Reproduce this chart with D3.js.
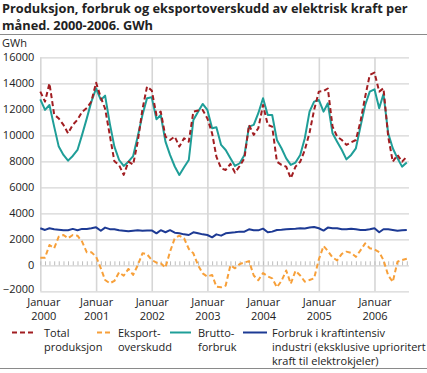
<!DOCTYPE html>
<html>
<head>
<meta charset="utf-8">
<script src="https://cdn.jsdelivr.net/npm/d3@7"></script>
<style>
    body { margin: 0; background: #fff; }
    text { font-family: "Open Sans", sans-serif; fill: #222; }
</style>
</head>
<body>
<div id="my_chart"></div>
<script>
// monthly values Jan 2000 - Aug 2006, GWh
var totalProduksjon = [
    13360, 12590, 14000, 11600, 11300, 10800, 10150, 10800, 11200, 11800, 12100, 12600,
    14050, 12900, 12050, 10000, 8000, 7700, 6950, 7970, 7750, 9500, 12000, 13750,
    13450, 11560, 11820, 9900, 9640, 9900, 9130, 9770, 9510, 11820, 11900, 11950,
    11300, 10150, 8360, 7460, 7330, 7800, 7130, 7640, 8230, 10800, 10030, 10540,
    12330, 10800, 10670, 7970, 7720, 7590, 6690, 7590, 7970, 8870, 10200, 11950,
    13360, 13400, 13600, 10670, 9900, 9640, 9260, 9460, 9640, 11050, 12970, 14640,
    14820, 13360, 13620, 9900, 7970, 8490, 7970, 8360];

var eksportOverskudd = [
    590, 590, 1560, 1310, 2200, 2330, 2080, 2330, 2280, 1820, 1000, 1000,
    670, -230, -1130, -1380, -1200, -540, -800, -280, -740, 0, 920, 850,
    410, 200, 150, -180, 1050, 2080, 2280, 2080, 1260, 920, 0, -620,
    -870, -740, -1640, -1690, -1560, 0, -230, 100, 220, 320, -780, -1150,
    -600, -850, -1000, -1690, -1200, -400, -1420, -420, -780, -1260, -1130, -1000,
    450, 1480, 1100, 600, 380, 880, 1050, 950, 650, 1150, 1690, 1310,
    1220, 1020, 400, -780, -1280, 280, 410, 500];

var bruttoForbruk = [
    12770, 11950, 12330, 10670, 9130, 8490, 8050, 8410, 8870, 10030, 11300, 12590,
    13600, 12720, 13050, 10900, 9130, 8100, 7640, 7970, 8400, 9900, 11560, 12850,
    12920, 11230, 11560, 9510, 8490, 7600, 6950, 7540, 8100, 11180, 11820, 12410,
    11950, 10540, 10620, 9260, 8870, 8230, 7640, 7850, 8490, 10670, 10800, 11700,
    12850, 11560, 11560, 9640, 9000, 8230, 7720, 7900, 8490, 9770, 11820, 12590,
    12720, 11820, 12460, 10150, 9510, 8870, 8150, 8490, 9000, 10670, 12330, 13360,
    13540, 12080, 13180, 10150, 9000, 8230, 7590, 7900];

var kraftintensivIndustri = [
    2850, 2720, 2850, 2780, 2740, 2700, 2700, 2800, 2700, 2800, 2800, 2850,
    2920, 2660, 2900, 2780, 2780, 2700, 2660, 2620, 2660, 2700, 2660, 2680,
    2680, 2460, 2700, 2540, 2700, 2510, 2460, 2380, 2330, 2540, 2460, 2380,
    2330, 2150, 2380, 2280, 2460, 2510, 2540, 2590, 2590, 2770, 2690, 2690,
    2820, 2540, 2590, 2720, 2740, 2770, 2800, 2820, 2850, 2830, 2900, 2950,
    2850, 2670, 2900, 2850, 2850, 2770, 2770, 2820, 2770, 2720, 2720, 2770,
    2850, 2540, 2770, 2770, 2720, 2650, 2690, 2720];

var yTicks = [-2000, 0, 2000, 4000, 6000, 8000, 10000, 12000, 14000, 16000];
var xTickWord = "Januar";
var legendItems = [
    { lines: ["Total", "produksjon"], color: "#a11d21", dash: "5,3" },
    { lines: ["Eksport-", "overskudd"], color: "#f7a03a", dash: "5,3" },
    { lines: ["Brutto-", "forbruk"], color: "#1f9e98", dash: null },
    { lines: ["Forbruk i kraftintensiv", "industri (eksklusive uprioritert", "kraft til elektrokjeler)"], color: "#1d3a94", dash: null }
];
var title = ["Produksjon, forbruk og eksportoverskudd av elektrisk kraft per",
             "måned. 2000-2006. GWh"];

var months = d3.timeMonth.range(new Date(2000, 0, 1), new Date(2006, 8, 1));

function drawChart() {
    var width = 427, height = 373;
    var plot = { left: 40.3, right: 409, top: 57.3, bottom: 291.3 };

    var svg = d3.select("#my_chart")
        .append("svg")
        .attr("width", width)
        .attr("height", height);

    // title, one text per line
    svg.selectAll(".title")
        .data(title)
        .enter()
        .append("text")
        .attr("class", "title")
        .attr("x", 2)
        .attr("y", function (d, i) { return 13.3 + i * 16.6; })
        .style("font-size", "12.8px").style("font-weight", "bold")
        .text(function (d) { return d; });

    svg.append("line").attr("x1", 0).attr("x2", width).attr("y1", 34.5).attr("y2", 34.5)
        .attr("stroke", "#8a8a8a").attr("stroke-width", 1);
    svg.append("line").attr("x1", 0).attr("x2", width).attr("y1", 368.5).attr("y2", 368.5)
        .attr("stroke", "#8a8a8a").attr("stroke-width", 1);

    svg.append("text").attr("x", 2).attr("y", 47).style("font-size", "11px").text("GWh");

    var x = d3.scaleTime()
        .domain([months[0], months[months.length - 1]])
        .range([plot.left, 406.8]);

    var y = d3.scaleLinear()
        .domain([-2000, 16000])
        .range([plot.bottom, plot.top]);

    // horizontal grid + y labels
    var yAxis = svg.append("g")
        .attr("transform", "translate(" + plot.left + ",0)")
        .call(d3.axisLeft(y).tickValues(yTicks).tickSize(-(plot.right - plot.left)).tickPadding(6).tickFormat(d3.format("d")));
    yAxis.select(".domain").remove();
    yAxis.selectAll("line").attr("stroke", "#d6d6d6").attr("stroke-width", 1.2);
    yAxis.selectAll("text").style("font-size", "11px").attr("fill", "#222")
        .attr("y", function (d) { return d == -2000 ? -2.5 : 0; }); // lowest label sits a bit higher

    // vertical grid at each January
    var xAxis = svg.append("g")
        .attr("transform", "translate(0," + plot.bottom + ")")
        .call(d3.axisBottom(x).ticks(d3.timeYear.every(1)).tickSize(-(plot.bottom - plot.top)).tickPadding(0));
    xAxis.select(".domain").remove();
    xAxis.selectAll("line").attr("stroke", "#d6d6d6").attr("stroke-width", 1.6);
    xAxis.selectAll("text").remove();
    xAxis.selectAll(".tick").append("text")
        .attr("y", 14.7)
        .attr("text-anchor", "middle")
        .style("font-size", "11px")
        .attr("fill", "#222")
        .each(function (d, i) {
            var t = d3.select(this);
            var dx = i == 0 ? 3 : 0;
            t.append("tspan").attr("x", dx).attr("dy", 0).text(xTickWord);
            t.append("tspan").attr("x", dx).attr("dy", 14).text(d.getFullYear());
        });

    // small month ticks on the zero line
    var monthAxis = svg.append("g")
        .attr("transform", "translate(0," + y(0) + ")")
        .call(d3.axisBottom(x).tickValues(months).tickSize(-4).tickFormat(""));
    monthAxis.select(".domain").remove();
    monthAxis.selectAll("line").attr("stroke", "#bdbdbd").attr("stroke-width", 1);

    var line = function (values) {
        return d3.line()
            .x(function (d, i) { return x(months[i]); })
            .y(function (d) { return y(d); })(values);
    };

    var series = [
        { values: bruttoForbruk, item: legendItems[2] },
        { values: totalProduksjon, item: legendItems[0] },
        { values: kraftintensivIndustri, item: legendItems[3] },
        { values: eksportOverskudd, item: legendItems[1] }
    ];

    series.forEach(function (s) {
        svg.append("path")
            .attr("fill", "none")
            .attr("stroke", s.item.color)
            .attr("stroke-width", 2)
            .attr("stroke-linejoin", "round")
            .attr("stroke-dasharray", s.item.dash)
            .attr("d", line(s.values));
    });

    // legend
    var swatch = [[12, 33], [97, 111], [170, 191], [243, 267]];
    var textX = [44, 118, 198, 272];
    legendItems.forEach(function (d, i) {
        svg.append("line")
            .attr("x1", swatch[i][0]).attr("x2", swatch[i][1])
            .attr("y1", 332.5).attr("y2", 332.5)
            .attr("stroke", d.color).attr("stroke-width", 2)
            .attr("stroke-dasharray", d.dash);
        svg.append("text")
            .attr("y", 337)
            .style("font-size", "11px")
            .selectAll("tspan")
            .data(d.lines)
            .enter()
            .append("tspan")
            .attr("x", textX[i])
            .attr("dy", function (t, j) { return j == 0 ? 0 : 14.2; })
            .text(function (t) { return t; });
    });
}

drawChart();
</script>
</body>
</html>
